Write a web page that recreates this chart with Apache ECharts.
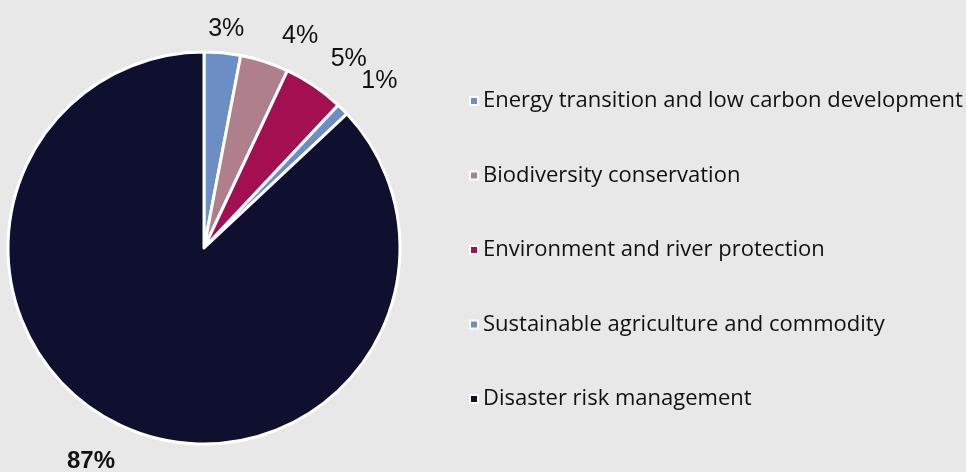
<!DOCTYPE html>
<html>
<head>
<meta charset="utf-8">
<style>
  html, body { margin: 0; padding: 0; background: #e8e8e8; }
  #chart { width: 966px; height: 472px; }
</style>
<script src="https://cdn.jsdelivr.net/npm/echarts@6/dist/echarts.min.js"></script>
</head>
<body>
<div id="chart"></div>
<script>
// Share of funding by theme (percent)
const categories = [
  'Energy transition and low carbon development',
  'Biodiversity conservation',
  'Environment and river protection',
  'Sustainable agriculture and commodity',
  'Disaster risk management'
];
const shares = [3, 4, 5, 1, 87];
const colors = ['#6b8fc4', '#b07f8c', '#a30f50', '#6b8fc4', '#0f1030'];

// Fine nudges for the outside percentage labels
const labelNudges = [[-20, -16], [10, -18], [7, -20], [8, -23], [-3, 26]];

const chart = echarts.init(document.getElementById('chart'));
chart.setOption({
  backgroundColor: '#e8e8e8',
  animation: false,
  legend: {
    orient: 'vertical',
    left: 464,
    top: 85,
    icon: 'rect',
    itemWidth: 8,
    itemHeight: 8,
    itemGap: 52.5,
    textStyle: { fontFamily: 'Open Sans', fontSize: 22, color: '#111111' },
    data: categories
  },
  series: [{
    type: 'pie',
    center: [204, 248],
    radius: 196,
    startAngle: 90,
    clockwise: true,
    avoidLabelOverlap: false,
    itemStyle: { borderColor: '#ffffff', borderWidth: 3 },
    label: {
      show: true,
      position: 'outside',
      formatter: '{c}%',
      fontFamily: 'Liberation Sans',
      fontSize: 25,
      color: '#111111'
    },
    labelLine: { show: false, length: 8, length2: 0 },
    labelLayout: function (p) {
      const n = labelNudges[p.dataIndex];
      return { dx: n[0], dy: n[1] };
    },
    emphasis: { disabled: true },
    data: categories.map((name, i) => ({
      name: name,
      value: shares[i],
      itemStyle: { color: colors[i] },
      label: i === 4 ? { fontWeight: 'bold', fontSize: 24 } : {}
    }))
  }]
});
</script>
</body>
</html>
